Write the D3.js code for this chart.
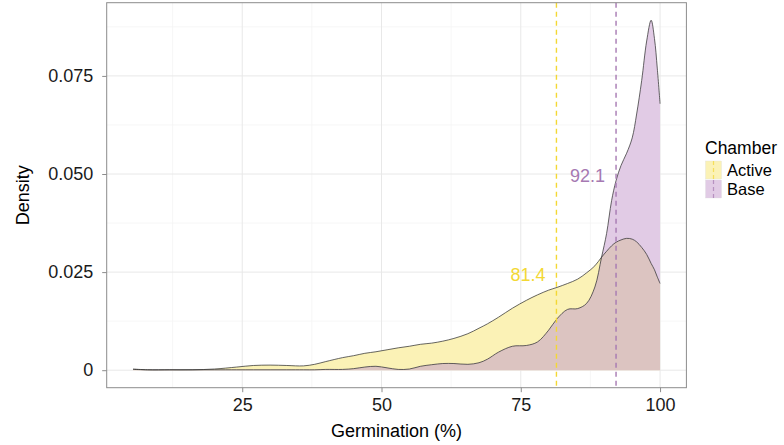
<!DOCTYPE html>
<html>
<head>
<meta charset="utf-8">
<script src="https://cdn.jsdelivr.net/npm/d3@7"></script>
<style>
  html, body { margin: 0; padding: 0; background: #fff; }
  text { font-family: "Liberation Sans", Arial, Helvetica, sans-serif; }
</style>
</head>
<body>
<svg id="chart" width="784" height="445"></svg>
<script>
// ---- data ----
const germination = [5.4, 8, 12, 16, 20, 24, 27, 30, 33, 36, 38, 40, 43, 45, 47, 49, 51, 53, 55, 57, 59, 61, 63, 65.5, 67.5, 69, 71, 73.5, 76, 78, 80, 81.5, 83.4, 85.2, 86.8, 88.3, 89.5, 90.4, 91.3, 92.1, 93, 94, 95, 95.8, 96.7, 97.6, 98.4, 99, 99.5, 100];
const activeDensity = [0.0003, 0.0001, 0.0001, 0.0001, 0.0003, 0.0008, 0.0012, 0.0013, 0.0012, 0.0011, 0.0015, 0.0022, 0.0032, 0.0037, 0.0043, 0.0047, 0.0052, 0.0057, 0.0061, 0.0066, 0.0069, 0.0074, 0.0081, 0.0093, 0.0107, 0.0118, 0.0135, 0.0158, 0.0178, 0.0192, 0.0204, 0.0211, 0.0221, 0.0232, 0.0248, 0.0266, 0.0288, 0.0303, 0.0317, 0.0326, 0.0332, 0.0336, 0.0334, 0.0327, 0.0313, 0.0295, 0.0272, 0.0256, 0.0238, 0.0221];
const baseDensity = [0.0002, 0.0001, 0.0001, 0.0001, 0.0001, 0.0001, 0.0001, 0.0001, 0.0001, 0.0001, 0.0001, 0.0002, 0.0002, 0.0004, 0.0008, 0.0010, 0.0006, 0.0002, 0.0003, 0.0010, 0.0014, 0.0017, 0.0017, 0.0015, 0.0019, 0.0028, 0.0046, 0.0061, 0.0063, 0.0072, 0.0102, 0.0131, 0.0155, 0.0157, 0.0170, 0.0212, 0.0288, 0.0348, 0.0432, 0.0483, 0.0522, 0.0553, 0.0592, 0.0653, 0.0738, 0.0839, 0.0892, 0.0845, 0.0770, 0.0679];
const chambers = ["Active", "Base"];
const chamberMeans = [81.4, 92.1];
const meanLabelY = [0.0227, 0.0479];
const xTicks = [25, 50, 75, 100];
const yTicks = [0, 0.025, 0.05, 0.075];
const yTickLabels = ["0", "0.025", "0.050", "0.075"];

// ---- styles ----
const fillColor = { Active: "#fbf2b6", Base: "#e1cbe5" };
const overlapColor = "#dcc4c1";
const lineColor = { Active: "#f3d834", Base: "#a679b2" };

const svg = d3.select("#chart");
const panel = { left: 106.7, right: 686.4, top: 2.7, bottom: 387.7 };

const xExt = d3.extent(germination);
const xPad = (xExt[1] - xExt[0]) * 0.05;
const x = d3.scaleLinear().domain([xExt[0] - xPad, xExt[1] + xPad]).range([panel.left, panel.right]);
const yMax = d3.max(baseDensity.concat(activeDensity));
const y = d3.scaleLinear().domain([-yMax * 0.05, yMax * 1.05]).range([panel.bottom, panel.top]);

// grid
const g = svg.append("g");
const xMinor = d3.range(xTicks.length + 1).map(i => xTicks[0] - 12.5 + i * 25).filter(v => v > x.domain()[0] && v < x.domain()[1]);
const yMinor = yTicks.map(v => v + 0.0125).filter(v => v < y.domain()[1]);
g.selectAll(".xminor").data(xMinor).join("line")
  .attr("x1", d => x(d)).attr("x2", d => x(d)).attr("y1", panel.top).attr("y2", panel.bottom)
  .attr("stroke", "#f4f4f4").attr("stroke-width", 0.8);
g.selectAll(".yminor").data(yMinor).join("line")
  .attr("y1", d => y(d)).attr("y2", d => y(d)).attr("x1", panel.left).attr("x2", panel.right)
  .attr("stroke", "#f4f4f4").attr("stroke-width", 0.8);
g.selectAll(".xmajor").data(xTicks).join("line")
  .attr("x1", d => x(d)).attr("x2", d => x(d)).attr("y1", panel.top).attr("y2", panel.bottom)
  .attr("stroke", "#e8e8e8").attr("stroke-width", 1);
g.selectAll(".ymajor").data(yTicks).join("line")
  .attr("y1", d => y(d)).attr("y2", d => y(d)).attr("x1", panel.left).attr("x2", panel.right)
  .attr("stroke", "#e8e8e8").attr("stroke-width", 1);

// densities
const activePts = germination.map((v, i) => [v, activeDensity[i]]);
const basePts = germination.map((v, i) => [v, baseDensity[i]]);
const curve = d3.curveCatmullRom.alpha(0.5);
const area = d3.area().x(d => x(d[0])).y0(y(0)).y1(d => y(d[1])).curve(curve);
const line = d3.line().x(d => x(d[0])).y(d => y(d[1])).curve(curve);

const defs = svg.append("defs");
defs.append("clipPath").attr("id", "activeClip").append("path").attr("d", area(activePts));

svg.append("path").attr("d", area(activePts)).attr("fill", fillColor.Active);
svg.append("path").attr("d", area(basePts)).attr("fill", fillColor.Base);
svg.append("path").attr("d", area(basePts)).attr("fill", overlapColor).attr("clip-path", "url(#activeClip)");
svg.append("path").attr("d", line(activePts)).attr("fill", "none").attr("stroke", "#333").attr("stroke-width", 0.75);
svg.append("path").attr("d", line(basePts)).attr("fill", "none").attr("stroke", "#333").attr("stroke-width", 0.75);

// mean lines & labels
chambers.forEach((c, i) => {
  svg.append("line")
    .attr("x1", x(chamberMeans[i])).attr("x2", x(chamberMeans[i]))
    .attr("y1", panel.top).attr("y2", panel.bottom)
    .attr("stroke", lineColor[c]).attr("stroke-width", 1.4)
    .attr("stroke-dasharray", "5,4");
  svg.append("text")
    .attr("x", x(chamberMeans[i]) - 11).attr("y", y(meanLabelY[i]))
    .attr("text-anchor", "end").attr("font-size", 18).attr("fill", lineColor[c])
    .text(chamberMeans[i].toFixed(1));
});

// panel border
svg.append("rect").attr("x", panel.left).attr("y", panel.top)
  .attr("width", panel.right - panel.left).attr("height", panel.bottom - panel.top)
  .attr("fill", "none").attr("stroke", "#8c8c8c").attr("stroke-width", 1);

// axes
const xAxis = svg.append("g").attr("transform", `translate(0,${panel.bottom})`)
  .call(d3.axisBottom(x).tickValues(xTicks).tickSize(4.5).tickPadding(6));
const yAxis = svg.append("g").attr("transform", `translate(${panel.left},0)`)
  .call(d3.axisLeft(y).tickValues(yTicks).tickFormat((d, i) => yTickLabels[i]).tickSize(4.5).tickPadding(9));
[xAxis, yAxis].forEach(a => {
  a.select(".domain").remove();
  a.selectAll(".tick line").attr("stroke", "#8c8c8c");
  a.selectAll(".tick text").attr("font-size", 18).attr("fill", "#1a1a1a")
    .attr("font-family", "Liberation Sans, Arial, sans-serif");
});

// axis titles
svg.append("text").attr("x", (panel.left + panel.right) / 2).attr("y", 437)
  .attr("text-anchor", "middle").attr("font-size", 18).attr("fill", "#000").text("Germination (%)");
svg.append("text").attr("transform", `translate(29,${(panel.top + panel.bottom) / 2}) rotate(-90)`)
  .attr("text-anchor", "middle").attr("font-size", 18).attr("fill", "#000").text("Density");

// legend
const leg = svg.append("g").attr("transform", "translate(705,0)");
leg.append("text").attr("x", 0).attr("y", 154).attr("font-size", 17.5).attr("fill", "#000").text("Chamber");
chambers.forEach((c, i) => {
  const ky = 161 + i * 19;
  leg.append("rect").attr("x", 0.5).attr("y", ky).attr("width", 16).attr("height", 18)
    .attr("fill", fillColor[c]).attr("stroke", "#d9d9d9").attr("stroke-width", 0.3);
  leg.append("line").attr("x1", 8.5).attr("x2", 8.5).attr("y1", ky).attr("y2", ky + 18)
    .attr("stroke", lineColor[c]).attr("stroke-width", 1.2).attr("stroke-dasharray", "4,3").attr("opacity", 0.7);
  leg.append("text").attr("x", 22).attr("y", ky + 9).attr("dy", "0.35em")
    .attr("font-size", 16.5).attr("fill", "#000").text(c);
});
</script>
</body>
</html>
